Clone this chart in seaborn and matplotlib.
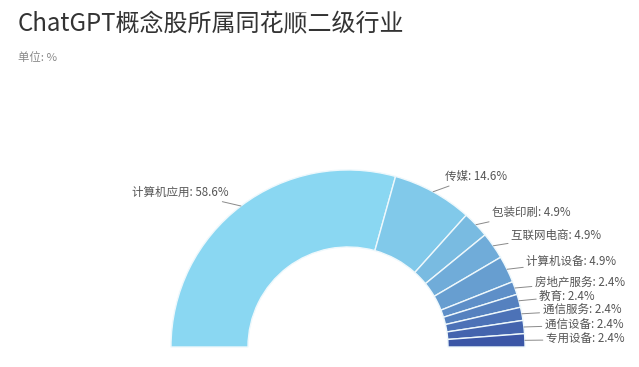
import numpy as np
import seaborn as sns
import matplotlib
matplotlib.use("Agg")
import matplotlib.pyplot as plt

sns.set_theme(style="white")
plt.rcParams['font.family'] = ['Noto Sans CJK SC', 'DejaVu Sans']

# 同花顺二级行业占比 (%)
industries = ["计算机应用", "传媒", "包装印刷", "互联网电商", "计算机设备",
              "房地产服务", "教育", "通信服务", "通信设备", "专用设备"]
shares = [58.6, 14.6, 4.9, 4.9, 4.9, 2.4, 2.4, 2.4, 2.4, 2.4]

colors = sns.blend_palette(["#8AD7F2", "#3B56A6"], len(shares))

fig = plt.figure(figsize=(6.39, 3.67), dpi=100)
ax = fig.add_axes([0, 0, 1, 1])

# half donut: add an invisible wedge equal to the total
total = sum(shares)
wedges, _ = ax.pie(shares + [total], colors=list(colors) + ["white"],
                   startangle=180, counterclock=False, radius=1.0,
                   wedgeprops=dict(width=0.435, edgecolor="#eef8fc", linewidth=1.0))
wedges[-1].set_visible(False)

for w, name, v in zip(wedges[:-1], industries, shares):
    mid = np.deg2rad((w.theta1 + w.theta2) / 2)
    cx, cy = np.cos(mid), np.sin(mid)
    tx, ty = 1.1 * cx, 1.1 * cy
    if cx > 0:
        tx += 0.02
        ha = "left"
    else:
        tx -= 0.01
        ha = "right"
    ax.annotate(f"{name}: {v}%", xy=(cx, cy), xytext=(tx, ty),
                ha=ha, va="center", fontsize=8.3, color="#555555",
                arrowprops=dict(arrowstyle="-", color="#8a8a8a", lw=0.7,
                                shrinkA=0, shrinkB=0))

ax.set_xlim(-1.966, 1.644)
ax.set_ylim(-0.113, 1.96)
ax.set_aspect("auto")
ax.axis("off")

fig.text(0.028, 0.935, "ChatGPT概念股所属同花顺二级行业", fontsize=17.3,
         color="#333333", va="center", ha="left")
fig.text(0.028, 0.843, "单位: %", fontsize=8.2, color="#888888",
         va="center", ha="left")

fig.savefig("out.png", dpi=100)
